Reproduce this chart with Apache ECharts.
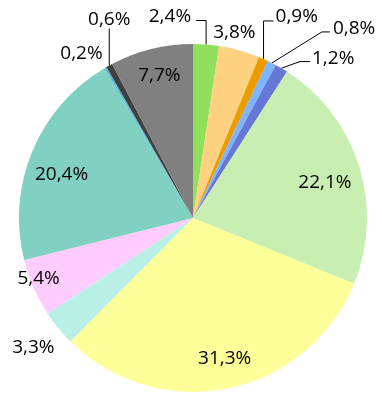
<!DOCTYPE html>
<html>
<head>
<meta charset="utf-8">
<script src="https://cdn.jsdelivr.net/npm/echarts@6/dist/echarts.min.js"></script>
<style>html,body{margin:0;padding:0;background:#fff;}#c{width:382px;height:405px;}</style>
</head>
<body>
<div id="c"></div>
<script>
// Data
const categories = ['A','B','C','D','E','F','G','H','I','J','K','L','M'];
const values = [2.4, 3.8, 0.9, 0.8, 1.2, 22.1, 31.3, 3.3, 5.4, 20.4, 0.2, 0.6, 7.7];
const labels = ['2,4%','3,8%','0,9%','0,8%','1,2%','22,1%','31,3%','3,3%','5,4%','20,4%','0,2%','0,6%','7,7%'];

// Styles
const colors = ['#90E05C','#FFD282','#EB9C00','#7DB6FF','#6677D6','#C9EEB1','#FFFF99','#B8F0E6','#FFCCFF','#80D1C1','#5CB8D6','#404040','#808080'];
const CX = 193, CY = 218, R = 174;
// label placement relative to library-computed slice edge point
const labelCfg = [
  {type:'line', seg:[[0,-24],[-10,0]], align:'right', lx:-5, ly:-4},
  {type:'off', dx:-5, dy:-18},
  {type:'line', seg:[[0,-38],[10,0]], align:'left', lx:2, ly:-4},
  {type:'line', seg:[[50,-31],[8,0]], align:'left', lx:3, ly:-3},
  {type:'line', seg:[[18.5,-6.6],[10,0]], align:'left', lx:2, ly:-3},
  {type:'off', dx:-34, dy:17},
  {type:'off', dx:-3, dy:-30},
  {type:'off', dx:-25, dy:19},
  {type:'off', dx:5, dy:-9},
  {type:'off', dx:29, dy:24},
  {type:'off', dx:-24, dy:-14},
  {type:'line', seg:[[0,-37],[0,0]], align:'center', lx:0, ly:-9},
  {type:'off', dx:8, dy:27}
];

const chart = echarts.init(document.getElementById('c'), null, {renderer:'canvas'});
chart.setOption({
  animation: false,
  series: [{
    type: 'pie',
    center: [CX, CY],
    radius: [0, R],
    startAngle: 90,
    clockwise: true,
    avoidLabelOverlap: false,
    data: values.map((v, i) => ({name: categories[i], value: v, itemStyle: {color: colors[i]}})),
    itemStyle: {borderWidth: 0},
    label: {
      show: true,
      position: 'outside',
      formatter: p => labels[p.dataIndex],
      fontFamily: '"Open Sans", "Liberation Sans", sans-serif',
      fontSize: 19,
      color: '#000'
    },
    labelLine: {show: true, length: 10, length2: 10, smooth: false, lineStyle: {color: '#000', width: 1}},
    labelLayout: function (params) {
      const pts = params.labelLinePoints;
      if (!pts) return {};
      const e = pts[0];
      const c = labelCfg[params.dataIndex];
      if (c.type === 'off') {
        return {x: e[0] + c.dx, y: e[1] + c.dy, align: 'center', verticalAlign: 'middle',
                labelLinePoints: [[e[0], e[1]], [e[0], e[1]], [e[0], e[1]]]};
      }
      const p1 = [e[0] + c.seg[0][0], e[1] + c.seg[0][1]];
      const p2 = [p1[0] + c.seg[1][0], p1[1] + c.seg[1][1]];
      return {x: p2[0] + c.lx, y: p2[1] + c.ly, align: c.align, verticalAlign: 'middle',
              labelLinePoints: [[e[0], e[1]], p1, p2]};
    }
  }]
});
</script>
</body>
</html>
